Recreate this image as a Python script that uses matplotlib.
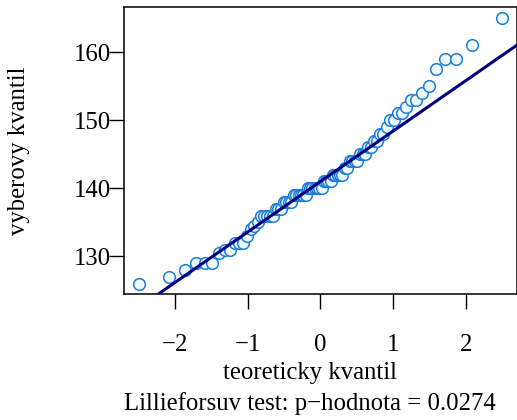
import numpy as np
import matplotlib
matplotlib.use("Agg")
import matplotlib.pyplot as plt
from statistics import NormalDist

plt.rcParams["font.family"] = ["Liberation Serif", "DejaVu Serif"]
plt.rcParams["axes.unicode_minus"] = True

# serazeny vyber (n = 80)
vyber = [126, 127, 128, 129, 129, 129, 130.5, 131, 131, 132, 132, 132, 133, 134, 134.5, 135,
         136, 136, 136, 136, 136, 137, 137, 137, 138, 138, 138, 138,
         139, 139, 139, 139, 139, 139, 140, 140, 140, 140, 140, 140, 140,
         141, 141, 141, 141, 142, 142, 142, 142, 142, 143, 143,
         144, 144, 144, 144, 145, 145, 145, 146, 146, 147, 147, 148, 148, 149,
         150, 150, 151, 151, 152, 153, 153, 154, 155, 157.5, 159, 159, 161, 165]
p_hodnota = 0.0274
x_ticks = [-2, -1, 0, 1, 2]
y_ticks = [130, 140, 150, 160]

y = np.sort(np.array(vyber, dtype=float))
n = len(y)
# teoreticke kvantily jako v R: qnorm(ppoints(n))
nd = NormalDist()
x = np.array([nd.inv_cdf((i - 0.5) / n) for i in range(1, n + 1)])

# qqline pres kvartily
q1, q3 = np.quantile(y, [0.25, 0.75])
z1, z3 = nd.inv_cdf(0.25), nd.inv_cdf(0.75)
slope = (q3 - q1) / (z3 - z1)
intercept = q1 - slope * z1

fig = plt.figure(figsize=(5.17, 4.20), dpi=100)
ax = fig.add_axes([0.2404, 0.2993, 0.7590, 0.6831])

ax.plot(x, y, "o", ms=8.4, mfc="#eefaff", mec="#1c7cd6", mew=1.1, zorder=3)
ax.axline((0, intercept), slope=slope, color="#000080", lw=2.2, zorder=4)

xr = x.max() - x.min()
yr = y.max() - y.min()
ax.set_xlim(x.min() - 0.04 * xr, x.max() + 0.04 * xr)
ax.set_ylim(y.min() - 0.04 * yr, y.max() + 0.04 * yr)

ax.set_xticks(x_ticks)
ax.set_yticks(y_ticks)
ax.tick_params(axis="both", direction="out", length=10.8, width=1.0, labelsize=17.8, colors="black")
ax.tick_params(axis="x", pad=18)
ax.tick_params(axis="y", pad=-1)
for s in ax.spines.values():
    s.set_linewidth(1.1)

fig.text(0.5996, 1 - 373 / 420, "teoreticky kvantil", ha="center", va="center", fontsize=17.8)
fig.text(0.5996, 1 - 404 / 420, "Lillieforsuv test: p\u2212hodnota = {}".format(p_hodnota),
         ha="center", va="center", fontsize=17.8)
fig.text(19 / 517, 1 - 151 / 420, "vyberovy kvantil", rotation=90, ha="center", va="center", fontsize=17.8)

fig.savefig("out.png", dpi=100)
